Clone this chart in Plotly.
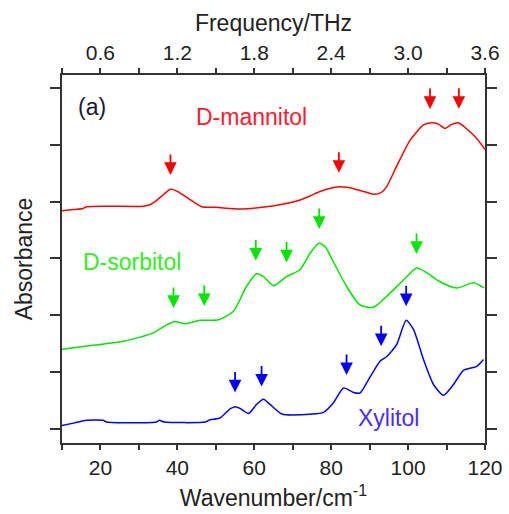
import numpy as np
import plotly.graph_objects as go

# ---------------- data ----------------
mannitol_x = [10, 13, 15.5, 16.4, 22, 31.2, 33, 34.2, 36.5, 38.2, 40, 43, 46.3, 50, 56.3, 62, 67.6,
              71.9, 74.5, 77.1, 81.4, 84.5, 88.4, 91.0, 93, 94.4, 97.0, 100.5, 104.0, 106.1, 107.8,
              109.6, 111.3, 113.1, 116.1, 118, 120]
mannitol_y = [3.84, 3.86, 3.88, 3.91, 3.92, 3.92, 3.95, 4.00, 4.13, 4.22, 4.18, 4.05, 3.91, 3.90, 3.87,
              3.90, 3.96, 4.03, 4.10, 4.18, 4.26, 4.25, 4.18, 4.13, 4.16, 4.26, 4.62, 5.08, 5.35, 5.39,
              5.37, 5.29, 5.36, 5.39, 5.23, 5.10, 4.92]

sorbitol_x = [10, 18, 26.0, 33.8, 37.2, 39.4, 42.0, 44, 45.9, 50.7, 54.6, 58.0, 60.6, 62.4, 65.0, 68.4,
              71.9, 74.5, 76.9, 78.5, 80.1, 84.0, 87.5, 91.0, 94.4, 98.8, 102.2, 104.8, 108.3, 112.6,
              117.0, 119.8]
sorbitol_y = [1.40, 1.47, 1.54, 1.69, 1.83, 1.89, 1.85, 1.88, 1.91, 1.92, 2.07, 2.51, 2.73, 2.68, 2.52, 2.68,
              2.80, 3.09, 3.27, 3.20, 3.00, 2.51, 2.18, 2.14, 2.33, 2.62, 2.83, 2.75, 2.59, 2.48,
              2.57, 2.48]

xylitol_x = [10, 13, 16.4, 20.7, 21.6, 34.6, 35.3, 36.5, 47.3, 48.5, 51.1, 53.7, 55.0, 56.3, 58.5,
             60.6, 62.4, 64.1, 67.2, 75.0, 78.0, 80.6, 83.2, 85.8, 87.5, 90.0, 92.7, 94.4, 97.0,
             99.5, 101.4, 104.0, 106.6, 109.2, 111.8, 114.4, 117.9, 119.6]
xylitol_y = [0.06, 0.10, 0.15, 0.15, 0.12, 0.12, 0.15, 0.12, 0.12, 0.16, 0.19, 0.35, 0.39, 0.36, 0.27,
             0.43, 0.52, 0.43, 0.26, 0.26, 0.29, 0.46, 0.72, 0.64, 0.63, 0.90, 1.19, 1.27, 1.48,
             1.91, 1.75, 1.22, 0.78, 0.59, 0.78, 1.03, 1.10, 1.22]

mannitol_peaks = [38.2, 82.0, 105.7, 113.2]
sorbitol_peaks = [39.0, 47.0, 60.4, 68.4, 76.9, 102.2]
xylitol_peaks = [55.0, 61.9, 84.0, 93.0, 99.5]

# tick label steps: wavenumber labels every 20 cm-1 (minor every 10), THz labels every 0.6 (minor every 0.3)
wn_range = [10, 120]
thz_range = [0.3, 3.6001]
y_ticks = [0, 1, 2, 3, 4, 5, 6]

RED, GREEN, BLUE = "#ff0000", "#00e600", "#0000ff"
FONT = "Arial, Liberation Sans, sans-serif"

fig = go.Figure()
series = [
    (mannitol_x, mannitol_y, RED, mannitol_peaks),
    (sorbitol_x, sorbitol_y, GREEN, sorbitol_peaks),
    (xylitol_x, xylitol_y, BLUE, xylitol_peaks),
]
annotations = []
for xs, ys, col, peaks in series:
    fig.add_trace(go.Scatter(x=xs, y=ys, mode="lines",
                             line=dict(color=col, width=1.5, shape="spline", smoothing=0.6),
                             showlegend=False, hoverinfo="skip"))
    for p in peaks:
        tip = float(np.interp(p, xs, ys)) + 0.25
        annotations.append(dict(x=p, y=tip, xref="x", yref="y", ax=0, ay=-22, text="",
                                showarrow=True, arrowhead=2, arrowsize=1.4, arrowwidth=1.8,
                                arrowcolor=col))

# invisible trace to activate the top (THz) axis
fig.add_trace(go.Scatter(x=thz_range, y=[None, None], xaxis="x2",
                         mode="lines", showlegend=False, hoverinfo="skip"))

labels = [("(a)", 0.070, 0.914, "#1a1a33"),
          ("D-mannitol", 0.448, 0.887, "#ff1a33"),
          ("D-sorbitol", 0.165, 0.492, "#33ee22"),
          ("Xylitol", 0.771, 0.067, "#4a2cff")]
for t, xp, yp, c in labels:
    annotations.append(dict(x=xp, y=yp, xref="paper", yref="paper", text=t, showarrow=False,
                            font=dict(size=23, color=c, family=FONT),
                            xanchor="center", yanchor="middle"))

axis_common = dict(showline=True, linecolor="#333333", linewidth=1.5, showgrid=False,
                   zeroline=False, ticks="outside", tickcolor="#333333", tickwidth=1.5,
                   automargin=False,
                   tickfont=dict(size=21, color="#222222", family=FONT))

fig.update_layout(
    width=509, height=514,
    margin=dict(l=62, r=24, t=75, b=71),
    paper_bgcolor="white", plot_bgcolor="white",
    font=dict(family=FONT, color="#222222"),
    xaxis=dict(range=wn_range, tickmode="linear", tick0=20, dtick=20, ticklen=5,
               minor=dict(tickmode="linear", tick0=10, dtick=10, ticks="outside", ticklen=5,
                          tickwidth=1.5, tickcolor="#333333"),
               title=dict(text="Wavenumber/cm<sup>-1</sup>", font=dict(size=23), standoff=12),
               **axis_common),
    xaxis2=dict(range=thz_range, overlaying="x", side="top", tickmode="linear", tick0=0.6,
                dtick=0.6, ticklen=5, tickformat=".1f",
                minor=dict(tickmode="linear", tick0=0.3, dtick=0.3, ticks="outside", ticklen=5,
                           tickwidth=1.5, tickcolor="#333333"),
                title=dict(text="Frequency/THz", font=dict(size=23), standoff=3),
                **axis_common),
    yaxis=dict(range=[-0.25, 6.23], tickmode="array", tickvals=y_ticks, showticklabels=False,
               ticklen=10, mirror="ticks",
               title=dict(text="Absorbance", font=dict(size=23), standoff=11),
               **axis_common),
    annotations=annotations,
)

fig.write_html("out.html", config={"displayModeBar": False},
               post_script="document.body.style.margin='0px';")
